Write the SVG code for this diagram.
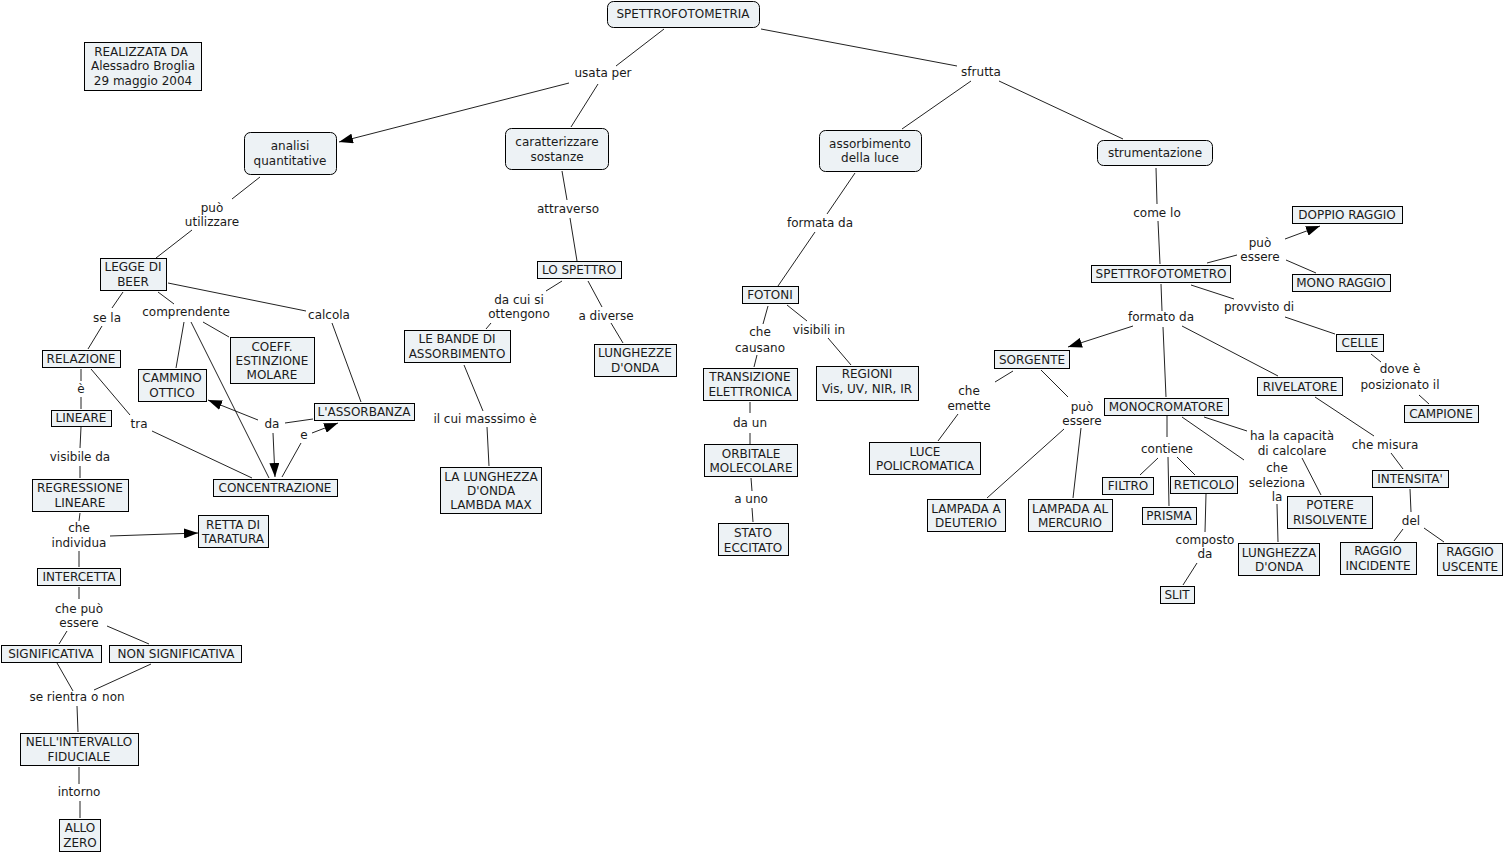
<svg xmlns="http://www.w3.org/2000/svg" width="1505" height="854" viewBox="0 0 1505 854">
<style>
.n rect{fill:#edf2f5;stroke:#000;stroke-width:1}
text{font-family:"DejaVu Sans",Verdana,sans-serif;font-size:12px;fill:#1a1a1a;text-anchor:middle}
#connectors line{stroke:#222;stroke-width:1;fill:none}
#connectors line.a{marker-end:url(#arr)}
</style>
<defs>
<marker id="arr" viewBox="0 0 14 10" refX="14" refY="5" markerWidth="14" markerHeight="10" markerUnits="userSpaceOnUse" orient="auto">
<path d="M0,0 L14,5 L0,10 Z" fill="#000"/>
</marker>
</defs>
<rect width="1505" height="854" fill="#fff"/>
<g id="connectors">
<line x1="664" y1="29" x2="616" y2="66"/>
<line class="a" x1="569" y1="83" x2="339" y2="142"/>
<line x1="598" y1="84" x2="571" y2="127"/>
<line x1="761" y1="29" x2="957" y2="66"/>
<line x1="971" y1="81" x2="902" y2="129"/>
<line x1="999" y1="81" x2="1123" y2="139"/>
<line x1="260" y1="177" x2="232" y2="199"/>
<line x1="192" y1="230" x2="156" y2="258"/>
<line x1="562" y1="171" x2="567" y2="200"/>
<line x1="570" y1="218" x2="577" y2="261"/>
<line x1="855" y1="173" x2="827" y2="214"/>
<line x1="815" y1="232" x2="778" y2="286"/>
<line x1="1156" y1="168" x2="1157" y2="204"/>
<line x1="1158" y1="221" x2="1160" y2="264"/>
<line x1="1207" y1="263" x2="1237" y2="255"/>
<line class="a" x1="1285" y1="239" x2="1320" y2="226"/>
<line x1="1286" y1="260" x2="1316" y2="273"/>
<line x1="1191" y1="285" x2="1234" y2="299"/>
<line x1="1285" y1="317" x2="1335" y2="334"/>
<line x1="1161" y1="284" x2="1162" y2="311"/>
<line class="a" x1="1133" y1="326" x2="1068" y2="347"/>
<line x1="1163" y1="327" x2="1166" y2="397"/>
<line x1="1182" y1="326" x2="1278" y2="376"/>
<line x1="1371" y1="354" x2="1381" y2="362"/>
<line x1="1419" y1="395" x2="1429" y2="404"/>
<line x1="1315" y1="397" x2="1374" y2="436"/>
<line x1="1391" y1="453" x2="1403" y2="469"/>
<line x1="1410" y1="489" x2="1411" y2="512"/>
<line x1="1403" y1="529" x2="1394" y2="541"/>
<line x1="1424" y1="528" x2="1444" y2="542"/>
<line x1="1013" y1="371" x2="995" y2="382"/>
<line x1="958" y1="414" x2="938" y2="441"/>
<line x1="1041" y1="370" x2="1068" y2="397"/>
<line x1="1064" y1="429" x2="987" y2="498"/>
<line x1="1081" y1="428" x2="1073" y2="498"/>
<line x1="1167" y1="416" x2="1167" y2="437"/>
<line x1="1158" y1="458" x2="1140" y2="475"/>
<line x1="1168" y1="457" x2="1169" y2="506"/>
<line x1="1177" y1="457" x2="1195" y2="475"/>
<line x1="1206" y1="494" x2="1205" y2="532"/>
<line x1="1197" y1="563" x2="1183" y2="585"/>
<line x1="1204" y1="417" x2="1247" y2="431"/>
<line x1="1302" y1="458" x2="1321" y2="495"/>
<line x1="1182" y1="417" x2="1244" y2="460"/>
<line x1="1277" y1="504" x2="1278" y2="542"/>
<line x1="768" y1="306" x2="763" y2="324"/>
<line x1="757" y1="355" x2="754" y2="367"/>
<line x1="787" y1="305" x2="807" y2="321"/>
<line x1="828" y1="338" x2="851" y2="365"/>
<line x1="750" y1="402" x2="750" y2="413"/>
<line x1="750" y1="433" x2="750" y2="444"/>
<line x1="751" y1="478" x2="752" y2="491"/>
<line x1="752" y1="508" x2="753" y2="522"/>
<line x1="562" y1="281" x2="546" y2="291"/>
<line x1="491" y1="323" x2="486" y2="329"/>
<line x1="588" y1="281" x2="602" y2="307"/>
<line x1="611" y1="323" x2="623" y2="343"/>
<line x1="464" y1="365" x2="483" y2="411"/>
<line x1="487" y1="427" x2="489" y2="466"/>
<line x1="123" y1="292" x2="112" y2="308"/>
<line x1="102" y1="326" x2="88" y2="349"/>
<line x1="158" y1="292" x2="174" y2="304"/>
<line x1="184" y1="322" x2="176" y2="368"/>
<line x1="191" y1="322" x2="269" y2="478"/>
<line x1="203" y1="322" x2="229" y2="337"/>
<line x1="168" y1="283" x2="306" y2="311"/>
<line x1="332" y1="323" x2="361" y2="402"/>
<line x1="81" y1="369" x2="81" y2="381"/>
<line x1="81" y1="397" x2="81" y2="409"/>
<line x1="91" y1="369" x2="130" y2="415"/>
<line x1="152" y1="431" x2="252" y2="478"/>
<line x1="81" y1="427" x2="80" y2="448"/>
<line x1="80" y1="466" x2="80" y2="478"/>
<line x1="80" y1="513" x2="79" y2="521"/>
<line class="a" x1="110" y1="536" x2="198" y2="533"/>
<line x1="79" y1="551" x2="79" y2="567"/>
<line x1="79" y1="587" x2="79" y2="599"/>
<line x1="67" y1="631" x2="59" y2="644"/>
<line x1="107" y1="626" x2="149" y2="644"/>
<line x1="57" y1="663" x2="73" y2="691"/>
<line x1="151" y1="664" x2="94" y2="690"/>
<line x1="77" y1="706" x2="78" y2="732"/>
<line x1="79" y1="767" x2="79" y2="784"/>
<line x1="80" y1="801" x2="80" y2="818"/>
<line x1="313" y1="419" x2="285" y2="423"/>
<line class="a" x1="258" y1="420" x2="208" y2="400"/>
<line class="a" x1="273" y1="433" x2="275" y2="477"/>
<line x1="282" y1="477" x2="301" y2="443"/>
<line class="a" x1="312" y1="433" x2="338" y2="423"/>
</g>
<g id="labels">
<text x="603" y="77">usata per</text>
<text x="981" y="76">sfrutta</text>
<text x="212" y="212">può</text><text x="212" y="226">utilizzare</text>
<text x="568" y="213">attraverso</text>
<text x="820" y="227">formata da</text>
<text x="1157" y="217">come lo</text>
<text x="1260" y="247">può</text><text x="1260" y="261">essere</text>
<text x="1259" y="311">provvisto di</text>
<text x="1161" y="321">formato da</text>
<text x="107" y="322">se la</text>
<text x="186" y="316">comprendente</text>
<text x="329" y="319">calcola</text>
<text x="81" y="393">è</text>
<text x="139" y="428">tra</text>
<text x="272" y="428">da</text>
<text x="304" y="439">e</text>
<text x="80" y="461">visibile da</text>
<text x="79" y="532">che</text><text x="79" y="547">individua</text>
<text x="79" y="613">che può</text><text x="79" y="627">essere</text>
<text x="77" y="701">se rientra o non</text>
<text x="79" y="796">intorno</text>
<text x="519" y="304">da cui si</text><text x="519" y="318">ottengono</text>
<text x="606" y="320">a diverse</text>
<text x="485" y="423">il cui masssimo è</text>
<text x="760" y="336">che</text><text x="760" y="352">causano</text>
<text x="819" y="334">visibili in</text>
<text x="750" y="427">da un</text>
<text x="751" y="503">a uno</text>
<text x="969" y="395">che</text><text x="969" y="410">emette</text>
<text x="1082" y="411">può</text><text x="1082" y="425">essere</text>
<text x="1167" y="453">contiene</text>
<text x="1292" y="440">ha la capacità</text><text x="1292" y="455">di calcolare</text>
<text x="1277" y="472">che</text><text x="1277" y="487">seleziona</text><text x="1277" y="501">la</text>
<text x="1205" y="544">composto</text><text x="1205" y="558">da</text>
<text x="1385" y="449">che misura</text>
<text x="1400" y="373">dove è</text><text x="1400" y="389">posizionato il</text>
<text x="1411" y="525">del</text>
</g>
<g id="n-spettrofotometria" class="n"><rect x="607.5" y="1.5" width="152" height="26" rx="6"/><text x="683" y="18">SPETTROFOTOMETRIA</text></g>
<g id="n-realizzata" class="n"><rect x="84.5" y="42.5" width="117" height="48"/><text x="141" y="56">REALIZZATA DA</text><text x="143" y="70">Alessadro Broglia</text><text x="143" y="85">29 maggio 2004</text></g>
<g id="n-analisi" class="n"><rect x="244.5" y="132.5" width="92" height="42" rx="6"/><text x="290" y="150">analisi</text><text x="290" y="165">quantitative</text></g>
<g id="n-caratterizzare" class="n"><rect x="505.5" y="128.5" width="103" height="41" rx="6"/><text x="557" y="146">caratterizzare</text><text x="557" y="161">sostanze</text></g>
<g id="n-assorbimento" class="n"><rect x="819.5" y="130.5" width="102" height="41" rx="6"/><text x="870" y="148">assorbimento</text><text x="870" y="162">della luce</text></g>
<g id="n-strumentazione" class="n"><rect x="1097.5" y="140.5" width="115" height="25" rx="6"/><text x="1155" y="157">strumentazione</text></g>
<g id="n-legge" class="n"><rect x="100.5" y="258.5" width="66" height="32"/><text x="133" y="271">LEGGE DI</text><text x="133" y="286">BEER</text></g>
<g id="n-lospettro" class="n"><rect x="537.5" y="261.5" width="84" height="17"/><text x="579" y="274">LO SPETTRO</text></g>
<g id="n-fotoni" class="n"><rect x="742.5" y="286.5" width="56" height="17"/><text x="770" y="299">FOTONI</text></g>
<g id="n-spettrofotometro" class="n"><rect x="1091.5" y="265.5" width="139" height="17"/><text x="1161" y="278">SPETTROFOTOMETRO</text></g>
<g id="n-doppio" class="n"><rect x="1292.5" y="206.5" width="110" height="17"/><text x="1347" y="219">DOPPIO RAGGIO</text></g>
<g id="n-mono" class="n"><rect x="1292.5" y="274.5" width="98" height="17"/><text x="1341" y="287">MONO RAGGIO</text></g>
<g id="n-relazione" class="n"><rect x="42.5" y="350.5" width="78" height="17"/><text x="81" y="363">RELAZIONE</text></g>
<g id="n-coeff" class="n"><rect x="230.5" y="337.5" width="84" height="46"/><text x="272" y="351">COEFF.</text><text x="272" y="365">ESTINZIONE</text><text x="272" y="379">MOLARE</text></g>
<g id="n-cammino" class="n"><rect x="138.5" y="369.5" width="68" height="32"/><text x="172" y="382">CAMMINO</text><text x="172" y="397">OTTICO</text></g>
<g id="n-assorbanza" class="n"><rect x="314.5" y="403.5" width="100" height="17"/><text x="364" y="416">L'ASSORBANZA</text></g>
<g id="n-lineare" class="n"><rect x="51.5" y="410.5" width="60" height="16"/><text x="81" y="422">LINEARE</text></g>
<g id="n-concentrazione" class="n"><rect x="213.5" y="479.5" width="124" height="17"/><text x="275" y="492">CONCENTRAZIONE</text></g>
<g id="n-regressione" class="n"><rect x="32.5" y="479.5" width="96" height="32"/><text x="80" y="492">REGRESSIONE</text><text x="80" y="507">LINEARE</text></g>
<g id="n-retta" class="n"><rect x="198.5" y="515.5" width="70" height="32"/><text x="233" y="529">RETTA DI</text><text x="233" y="543">TARATURA</text></g>
<g id="n-intercetta" class="n"><rect x="37.5" y="568.5" width="83" height="17"/><text x="79" y="581">INTERCETTA</text></g>
<g id="n-significativa" class="n"><rect x="1.5" y="645.5" width="100" height="17"/><text x="51" y="658">SIGNIFICATIVA</text></g>
<g id="n-nonsignificativa" class="n"><rect x="109.5" y="645.5" width="132" height="17"/><text x="176" y="658">NON SIGNIFICATIVA</text></g>
<g id="n-intervallo" class="n"><rect x="20.5" y="733.5" width="118" height="32"/><text x="79" y="746">NELL'INTERVALLO</text><text x="79" y="761">FIDUCIALE</text></g>
<g id="n-zero" class="n"><rect x="59.5" y="819.5" width="41" height="32"/><text x="80" y="832">ALLO</text><text x="80" y="847">ZERO</text></g>
<g id="n-bande" class="n"><rect x="404.5" y="330.5" width="106" height="32"/><text x="457" y="343">LE BANDE DI</text><text x="457" y="358">ASSORBIMENTO</text></g>
<g id="n-lunghezze" class="n"><rect x="594.5" y="344.5" width="82" height="32"/><text x="635" y="357">LUNGHEZZE</text><text x="635" y="372">D'ONDA</text></g>
<g id="n-lambda" class="n"><rect x="440.5" y="467.5" width="101" height="46"/><text x="491" y="481">LA LUNGHEZZA</text><text x="491" y="495">D'ONDA</text><text x="491" y="509">LAMBDA MAX</text></g>
<g id="n-transizione" class="n"><rect x="703.5" y="368.5" width="94" height="32"/><text x="750" y="381">TRANSIZIONE</text><text x="750" y="396">ELETTRONICA</text></g>
<g id="n-orbitale" class="n"><rect x="704.5" y="444.5" width="93" height="32"/><text x="751" y="458">ORBITALE</text><text x="751" y="472">MOLECOLARE</text></g>
<g id="n-stato" class="n"><rect x="718.5" y="523.5" width="70" height="32"/><text x="753" y="537">STATO</text><text x="753" y="552">ECCITATO</text></g>
<g id="n-regioni" class="n"><rect x="816.5" y="366.5" width="102" height="34"/><text x="867" y="378">REGIONI</text><text x="867" y="393">Vis, UV, NIR, IR</text></g>
<g id="n-sorgente" class="n"><rect x="994.5" y="350.5" width="75" height="18"/><text x="1032" y="364">SORGENTE</text></g>
<g id="n-luce" class="n"><rect x="869.5" y="442.5" width="111" height="32"/><text x="925" y="456">LUCE</text><text x="925" y="470">POLICROMATICA</text></g>
<g id="n-deuterio" class="n"><rect x="927.5" y="499.5" width="78" height="32"/><text x="966" y="513">LAMPADA A</text><text x="966" y="527">DEUTERIO</text></g>
<g id="n-mercurio" class="n"><rect x="1028.5" y="499.5" width="84" height="32"/><text x="1070" y="513">LAMPADA AL</text><text x="1070" y="527">MERCURIO</text></g>
<g id="n-monocromatore" class="n"><rect x="1104.5" y="398.5" width="124" height="17"/><text x="1166" y="411">MONOCROMATORE</text></g>
<g id="n-filtro" class="n"><rect x="1102.5" y="477.5" width="51" height="17"/><text x="1128" y="490">FILTRO</text></g>
<g id="n-reticolo" class="n"><rect x="1170.5" y="476.5" width="67" height="17"/><text x="1204" y="489">RETICOLO</text></g>
<g id="n-prisma" class="n"><rect x="1142.5" y="507.5" width="54" height="17"/><text x="1169" y="520">PRISMA</text></g>
<g id="n-slit" class="n"><rect x="1160.5" y="586.5" width="34" height="17"/><text x="1177" y="599">SLIT</text></g>
<g id="n-lunghezza" class="n"><rect x="1238.5" y="543.5" width="81" height="32"/><text x="1279" y="557">LUNGHEZZA</text><text x="1279" y="571">D'ONDA</text></g>
<g id="n-potere" class="n"><rect x="1287.5" y="496.5" width="85" height="32"/><text x="1330" y="509">POTERE</text><text x="1330" y="524">RISOLVENTE</text></g>
<g id="n-rivelatore" class="n"><rect x="1257.5" y="377.5" width="85" height="18"/><text x="1300" y="391">RIVELATORE</text></g>
<g id="n-celle" class="n"><rect x="1336.5" y="334.5" width="47" height="17"/><text x="1360" y="347">CELLE</text></g>
<g id="n-campione" class="n"><rect x="1404.5" y="405.5" width="74" height="17"/><text x="1441" y="418">CAMPIONE</text></g>
<g id="n-intensita" class="n"><rect x="1372.5" y="470.5" width="76" height="17"/><text x="1410" y="483">INTENSITA'</text></g>
<g id="n-incidente" class="n"><rect x="1340.5" y="542.5" width="76" height="32"/><text x="1378" y="555">RAGGIO</text><text x="1378" y="570">INCIDENTE</text></g>
<g id="n-uscente" class="n"><rect x="1437.5" y="543.5" width="65" height="32"/><text x="1470" y="556">RAGGIO</text><text x="1470" y="571">USCENTE</text></g>
</svg>
